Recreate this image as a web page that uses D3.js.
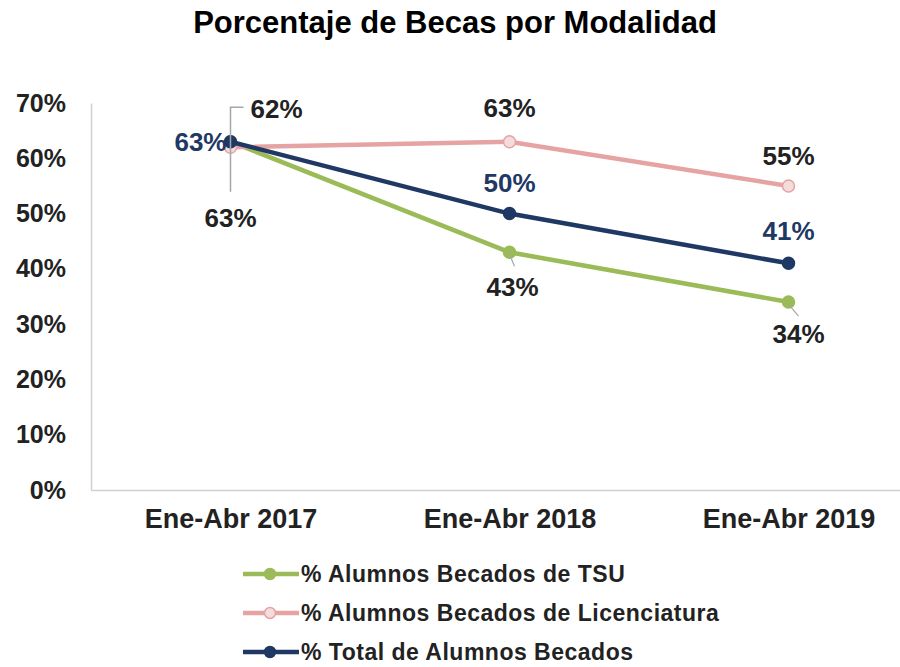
<!DOCTYPE html>
<html lang="es">
<head>
<meta charset="UTF-8">
<title>Porcentaje de Becas por Modalidad</title>
<style>
    body { margin: 0; background: #fff; font-family: Arial, "Liberation Sans", sans-serif; }
    .tick text { font-weight: bold; fill: #222; }
    .label { font-size: 26px; font-weight: bold; }
</style>
</head>
<body>
<div id="chart"></div>
<script src="https://cdn.jsdelivr.net/npm/d3@7"></script>
<script>
// data
const periods = ["Ene-Abr 2017", "Ene-Abr 2018", "Ene-Abr 2019"];
const tsu = [0.63, 0.43, 0.34];
const licenciatura = [0.62, 0.63, 0.55];
const total = [0.63, 0.50, 0.41];
const yTicks = [0, 0.1, 0.2, 0.3, 0.4, 0.5, 0.6, 0.7];

const series = [
    { name: "% Alumnos Becados de TSU", values: tsu, color: "#9bbb59", fill: "#9bbb59", labelColor: "#222" },
    { name: "% Alumnos Becados de Licenciatura", values: licenciatura, color: "#e6a3a3", fill: "#f5dcdc", labelColor: "#222" },
    { name: "% Total de Alumnos Becados", values: total, color: "#1f3864", fill: "#1f3864", labelColor: "#1f3864" }
];

const width = 900, height = 667;
const svg = d3.select("#chart").append("svg")
    .attr("width", width)
    .attr("height", height);

const plotLeft = 91, plotTop = 103, plotBottom = 490, plotRight = 928;

const x = d3.scalePoint().domain(periods).range([plotLeft, plotRight]).padding(0.5);
const y = d3.scaleLinear().domain([0, 0.7]).range([plotBottom, plotTop]);

// title
svg.append("text")
    .attr("x", 455).attr("y", 33)
    .attr("text-anchor", "middle")
    .style("font-size", "31px").style("font-weight", "bold")
    .text("Porcentaje de Becas por Modalidad");

// axes
const yAxis = svg.append("g")
    .attr("transform", `translate(${plotLeft},0)`)
    .call(d3.axisLeft(y).tickValues(yTicks).tickFormat(d3.format(".0%")).tickSize(0).tickPadding(25));
yAxis.select(".domain").attr("stroke", "#d0d0d0").attr("stroke-width", 1.5);
yAxis.selectAll("text").style("font-size", "25px");

const xAxis = svg.append("g")
    .attr("transform", `translate(0,${plotBottom})`)
    .call(d3.axisBottom(x).tickSize(0).tickPadding(19));
xAxis.select(".domain").attr("stroke", "#d0d0d0").attr("stroke-width", 1.5);
xAxis.selectAll("text").style("font-size", "27px");

// lines
const line = d3.line().x((d, i) => x(periods[i])).y(d => y(d));

series.forEach(s => {
    svg.append("path")
        .datum(s.values)
        .attr("fill", "none")
        .attr("stroke", s.color)
        .attr("stroke-width", 4.5)
        .attr("d", line);
    svg.selectAll(null)
        .data(s.values)
        .enter()
        .append("circle")
        .attr("cx", (d, i) => x(periods[i]))
        .attr("cy", d => y(d))
        .attr("r", 6)
        .attr("fill", s.fill)
        .attr("stroke", s.color)
        .attr("stroke-width", 1.5);
});

// data labels: [dx, dy, anchor] relative to each point
const fmt = d3.format(".0%");
const labelOffset = [
    [[0, 76, "middle"], [3, 35, "middle"], [10, 32, "middle"]],     // TSU below
    [[20, -38, "start"], [0, -34, "middle"], [0, -30, "middle"]],   // Licenciatura above
    [[-4, 0, "end"], [0, -31, "middle"], [0, -32, "middle"]]        // Total
];

series.forEach((s, si) => {
    s.values.forEach((v, i) => {
        const [dx, dy, anchor] = labelOffset[si][i];
        svg.append("text")
            .attr("class", "label")
            .attr("x", x(periods[i]) + dx)
            .attr("y", y(v) + dy)
            .attr("dy", "0.35em")
            .attr("text-anchor", anchor)
            .attr("fill", s.labelColor)
            .text(fmt(v));
    });
});

// leader lines
const x0 = x(periods[0]);
svg.append("path")
    .attr("d", `M${x0 + 13},${y(0.62) - 40}H${x0}V${y(0.63) + 50}`)
    .attr("fill", "none").attr("stroke", "#a6a6a6").attr("stroke-width", 1.5);
svg.append("line")
    .attr("x1", x(periods[1])).attr("y1", y(0.43) + 2)
    .attr("x2", x(periods[1]) + 5).attr("y2", y(0.43) + 14)
    .attr("stroke", "#a6a6a6").attr("stroke-width", 1.2);
svg.append("line")
    .attr("x1", x(periods[2])).attr("y1", y(0.34) + 2)
    .attr("x2", x(periods[2]) + 10).attr("y2", y(0.34) + 14)
    .attr("stroke", "#a6a6a6").attr("stroke-width", 1.2);

// legend
const legend = svg.append("g");
series.forEach((s, i) => {
    const ly = 574 + i * 39;
    legend.append("line")
        .attr("x1", 243).attr("x2", 299)
        .attr("y1", ly).attr("y2", ly)
        .attr("stroke", s.color).attr("stroke-width", 4.5);
    legend.append("circle")
        .attr("cx", 270).attr("cy", ly).attr("r", 5.5)
        .attr("fill", s.fill).attr("stroke", s.color).attr("stroke-width", 1.5);
    legend.append("text")
        .attr("x", 301).attr("y", ly)
        .attr("dy", "0.35em")
        .style("font-size", "23px")
        .style("font-weight", "bold")
        .style("letter-spacing", "0.5px")
        .attr("fill", "#222")
        .text(s.name);
});
</script>
</body>
</html>
